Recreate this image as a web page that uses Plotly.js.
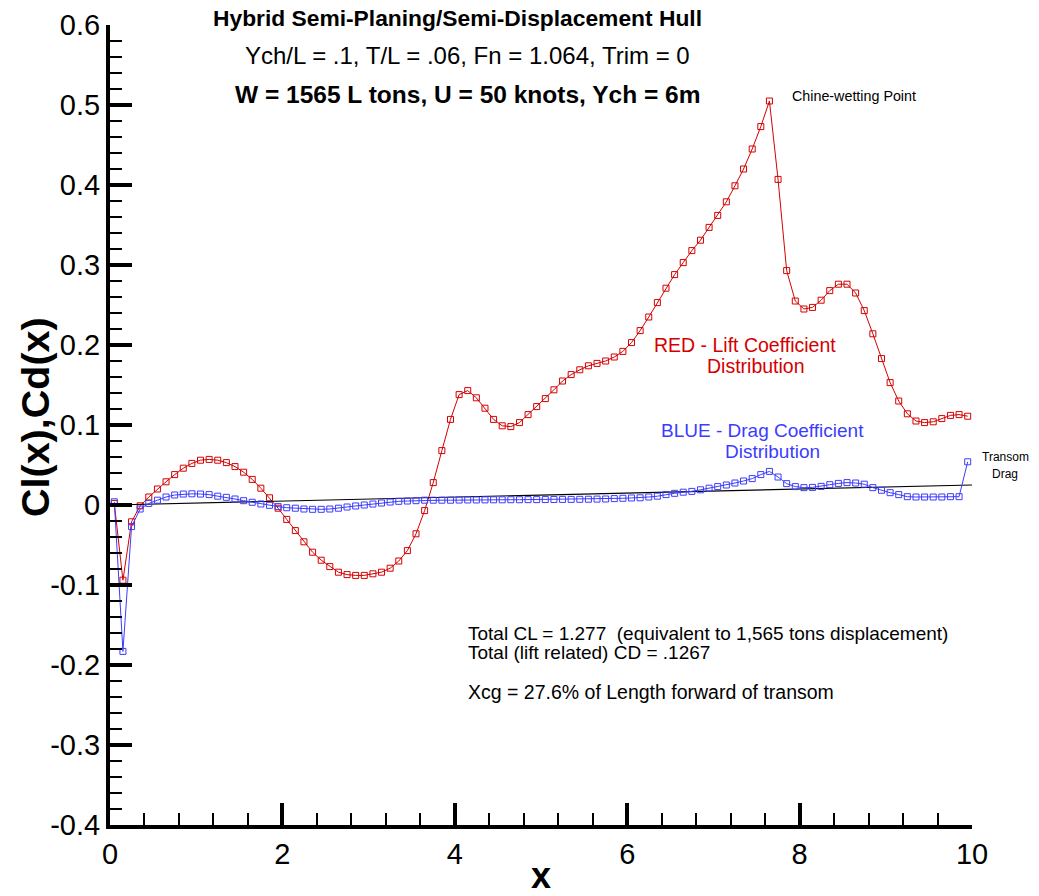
<!DOCTYPE html>
<html>
<head>
<meta charset="utf-8">
<script src="https://cdn.plot.ly/plotly-3.0.1.min.js"></script>
<style>html,body{margin:0;padding:0;background:#fff;}#chart{width:1039px;height:896px;}</style>
</head>
<body>
<div id="chart"></div>
<script>
// Stations along the hull
const xStations = [0.05,0.15,0.25,0.35,0.45,0.55,0.65,0.75,0.85,0.95,
  1.05,1.15,1.25,1.35,1.45,1.55,1.65,1.75,1.85,1.95,
  2.05,2.15,2.25,2.35,2.45,2.55,2.65,2.75,2.85,2.95,
  3.05,3.15,3.25,3.35,3.45,3.55,3.65,3.75,3.85,3.95,
  4.05,4.15,4.25,4.35,4.45,4.55,4.65,4.75,4.85,4.95,
  5.05,5.15,5.25,5.35,5.45,5.55,5.65,5.75,5.85,5.95,
  6.05,6.15,6.25,6.35,6.45,6.55,6.65,6.75,6.85,6.95,
  7.05,7.15,7.25,7.35,7.45,7.55,7.65,7.75,7.85,7.95,
  8.05,8.15,8.25,8.35,8.45,8.55,8.65,8.75,8.85,8.95,
  9.05,9.15,9.25,9.35,9.45,9.55,9.65,9.75,9.85,9.95];

// RED - Lift coefficient distribution Cl(x)
const liftCl = [0.002,-0.094,-0.021,-0.001,0.010,0.020,0.029,0.038,0.046,0.052,
  0.056,0.057,0.056,0.053,0.048,0.041,0.032,0.021,0.009,-0.004,
  -0.018,-0.032,-0.046,-0.059,-0.069,-0.077,-0.084,-0.087,-0.088,-0.088,
  -0.086,-0.084,-0.079,-0.070,-0.057,-0.036,-0.007,0.028,0.068,0.107,
  0.138,0.143,0.134,0.121,0.107,0.099,0.098,0.103,0.113,0.123,
  0.133,0.144,0.155,0.163,0.169,0.174,0.177,0.180,0.185,0.192,
  0.203,0.218,0.235,0.253,0.271,0.288,0.303,0.318,0.331,0.347,
  0.362,0.379,0.399,0.420,0.445,0.473,0.505,0.407,0.293,0.255,
  0.245,0.247,0.256,0.268,0.276,0.276,0.265,0.243,0.214,0.183,
  0.153,0.130,0.114,0.105,0.103,0.104,0.108,0.112,0.113,0.111];

// BLUE - Drag coefficient distribution Cd(x) (last value = transom drag)
const dragCd = [0.004,-0.183,-0.027,-0.005,0.002,0.006,0.010,0.0125,0.0137,0.014,
  0.0137,0.013,0.011,0.0096,0.0075,0.0054,0.0034,0.0013,-0.0004,-0.002,
  -0.0034,-0.004,-0.005,-0.0054,-0.0054,-0.005,-0.004,-0.0025,-0.0012,0.0,
  0.0012,0.0025,0.0037,0.0046,0.005,0.0054,0.006,0.006,0.006,0.006,
  0.0062,0.0063,0.0063,0.0064,0.0065,0.0065,0.0066,0.0066,0.0067,0.0067,
  0.0068,0.0069,0.007,0.007,0.0071,0.0072,0.0074,0.0075,0.008,0.0084,
  0.0088,0.009,0.010,0.011,0.013,0.0146,0.016,0.017,0.019,0.021,
  0.023,0.025,0.0275,0.030,0.033,0.038,0.042,0.035,0.0267,0.023,
  0.0217,0.022,0.0233,0.0254,0.027,0.028,0.0275,0.026,0.0217,0.0184,
  0.0154,0.013,0.0104,0.010,0.010,0.010,0.010,0.0104,0.0104,0.054];

// Thin black reference line
const refX = [0.05, 10];
const refY = [0.0, 0.025];

// Axis ticks
const xTickVals = [0, 2, 4, 6, 8, 10];
const xTickText = ['0', '2', '4', '6', '8', '10'];
const yTickVals = [-0.4, -0.3, -0.2, -0.1, 0, 0.1, 0.2, 0.3, 0.4, 0.5, 0.6];
const yTickText = ['-0.4', '-0.3', '-0.2', '-0.1', '0', '0.1', '0.2', '0.3', '0.4', '0.5', '0.6'];

const RED = '#d40000';
const BLUE = '#3c3cff';
const FONT = 'Liberation Sans, Arial, Helvetica, sans-serif';

const traces = [
  {x: xStations, y: liftCl, type: 'scatter', mode: 'lines+markers',
   line: {color: RED, width: 1},
   marker: {symbol: 'square-open', size: 6, color: RED, line: {width: 1, color: RED}},
   cliponaxis: false, showlegend: false, hoverinfo: 'x+y'},
  {x: refX, y: refY, type: 'scatter', mode: 'lines',
   line: {color: '#000', width: 1.2}, showlegend: false, hoverinfo: 'skip'},
  {x: xStations, y: dragCd, type: 'scatter', mode: 'lines+markers',
   line: {color: BLUE, width: 1},
   marker: {symbol: 'square-open', size: 6, color: BLUE, line: {width: 1, color: BLUE}},
   cliponaxis: false, showlegend: false, hoverinfo: 'x+y'}
];

function ann(text, x, y, size, color, opts) {
  return Object.assign({text: text, x: x, y: y, xref: 'paper', yref: 'paper',
    showarrow: false, xanchor: 'left', yanchor: 'middle',
    font: {family: FONT, size: size, color: color || '#000'}}, opts || {});
}

const annotations = [
  ann('<b>Hybrid Semi-Planing/Semi-Displacement Hull</b>', 0.4037, 1.00875, 22.8, '#000', {xanchor: 'center'}),
  ann('Ych/L = .1, T/L = .06, Fn = 1.064, Trim = 0', 0.4153, 0.96125, 24, '#000', {xanchor: 'center'}),
  ann('<b>W = 1565 L tons, U = 50 knots, Ych = 6m</b>', 0.4153, 0.91375, 24.5, '#000', {xanchor: 'center'}),
  ann('Chine-wetting Point', 0.7889, 0.91125, 14.3),
  ann('RED - Lift Coefficient', 0.6288, 0.6, 19.5, RED),
  ann('Distribution', 0.6903, 0.57375, 19.5, RED),
  ann('BLUE - Drag Coefficient', 0.6369, 0.4935, 19, BLUE),
  ann('Distribution', 0.7111, 0.4675, 19, BLUE),
  ann('Transom', 1.0093, 0.46, 12),
  ann('Drag', 1.0209, 0.43875, 12),
  ann('Total CL = 1.277\u00a0\u00a0(equivalent to 1,565 tons displacement)', 0.413, 0.2395, 19),
  ann('Total (lift related) CD = .1267', 0.413, 0.2155, 19),
  ann('Xcg = 27.6% of Length forward of transom', 0.413, 0.16625, 19.5),
  ann('<b>Cl(x),Cd(x)</b>', -0.087, 0.51, 39.5, '#000', {xanchor: 'center', textangle: -90})
];

const layout = {
  width: 1039, height: 896,
  margin: {l: 110, r: 67, t: 25, b: 71, pad: 0},
  paper_bgcolor: '#fff', plot_bgcolor: '#fff',
  font: {family: FONT, color: '#000'},
  showlegend: false,
  xaxis: {
    range: [0, 10], tickmode: 'array', tickvals: xTickVals, ticktext: xTickText,
    ticks: 'inside', ticklen: 22, tickwidth: 4, tickcolor: '#000',
    showline: true, linewidth: 4, linecolor: '#000', mirror: false,
    showgrid: false, zeroline: false,
    tickfont: {family: FONT, size: 29, color: '#000'},
    minor: {dtick: 0.4, tick0: 0, ticks: 'inside', ticklen: 12, tickwidth: 1.5, tickcolor: '#000', showgrid: false},
    title: {text: '<b>x</b>', font: {family: FONT, size: 36, color: '#000'}, standoff: 10}
  },
  yaxis: {
    range: [-0.4, 0.6], tickmode: 'array', tickvals: yTickVals, ticktext: yTickText,
    ticks: 'inside', ticklen: 22, tickwidth: 4, tickcolor: '#000',
    showline: true, linewidth: 4, linecolor: '#000', mirror: false,
    showgrid: false, zeroline: false,
    tickfont: {family: FONT, size: 29, color: '#000'},
    minor: {dtick: 0.02, tick0: 0, ticks: 'inside', ticklen: 12, tickwidth: 1.5, tickcolor: '#000', showgrid: false}
  },
  annotations: annotations
};

Plotly.newPlot('chart', traces, layout, {displayModeBar: false});
</script>
</body>
</html>
